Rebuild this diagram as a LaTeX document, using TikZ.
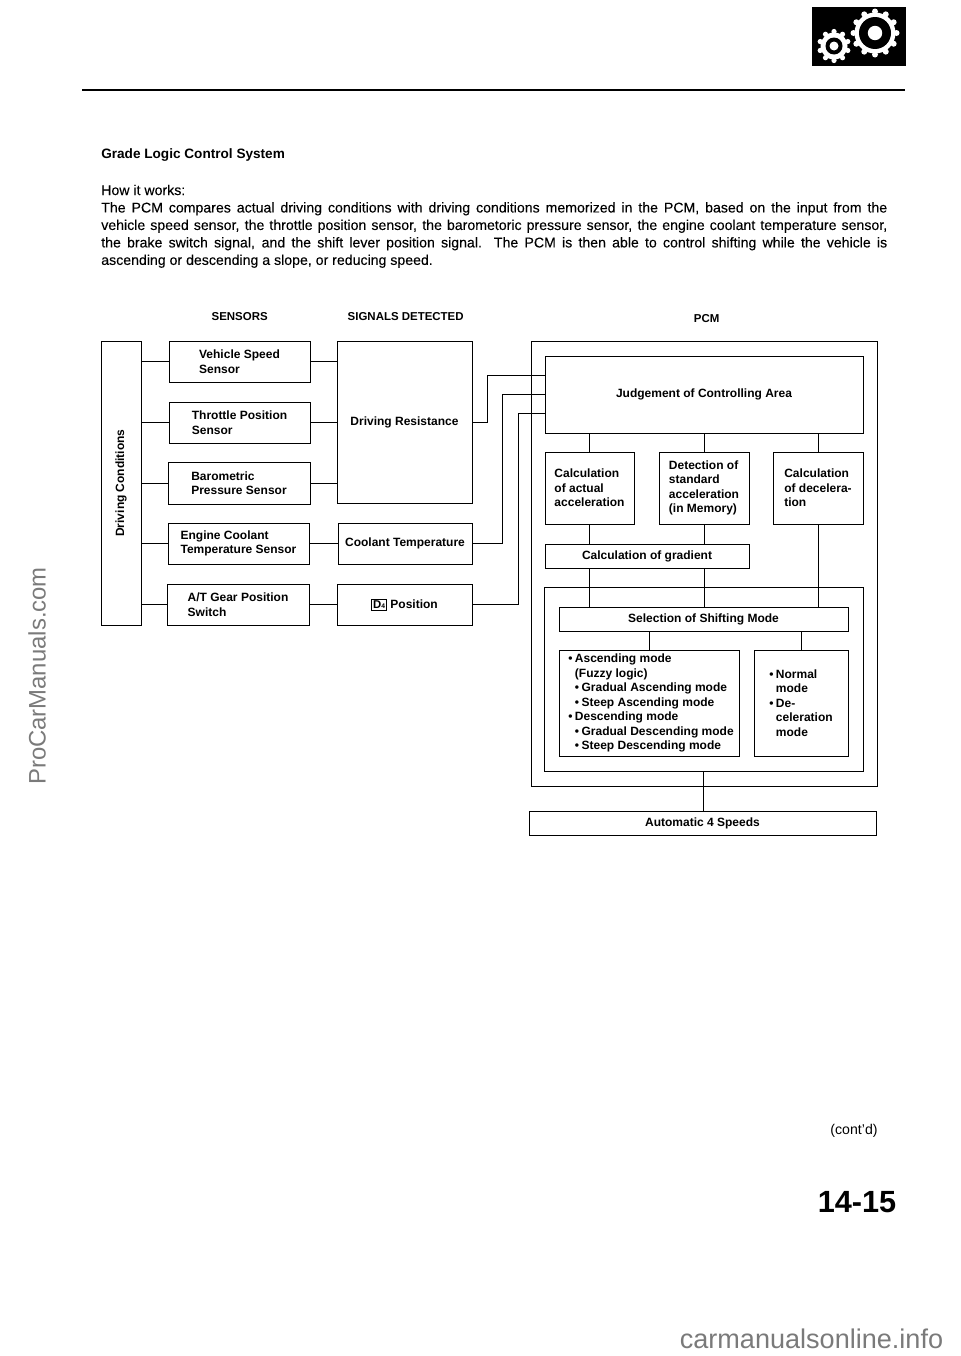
\documentclass[tikz,border=0pt]{standalone}
\usepackage{fontspec}
\setmainfont{Liberation Sans}
\newfontfamily\bodyfont[FakeBold=0.12]{Liberation Sans}
\usetikzlibrary{calc}
\tikzset{
    bx/.style 2 args={draw,line width=0.7pt,inner sep=0pt,outer sep=0pt,
        minimum width=#1*0.75pt,minimum height=#2*0.75pt,
        align=left,font=\bfseries\fontsize{9}{10.9}\selectfont},
    head/.style={font=\bfseries\fontsize{8.6}{10}\selectfont},
    link/.style={line width=0.7pt},
    mark text/.style={text=black!52,inner sep=0pt}
}
\newcommand{\bu}{\makebox[5pt][l]{\textbullet}}

\begin{document}
\begin{tikzpicture}[x=0.75pt,y=-0.75pt]
    \useasboundingbox (0,0) rectangle (960,1356);

    % page head
    \coordinate (RuleL) at (82,90);
    \coordinate (RuleR) at (905,90);
    \draw[line width=1.3pt] (RuleL) -- (RuleR);
    \fill[black] (812,7) rectangle (906,66);
    \coordinate (GearA) at (875,33);
    \coordinate (GearB) at (834,46);
    \foreach \a in {0,30,...,330}{
        \fill[white] ($(GearA)+(\a:21.5)$) circle (3);
    }
    \foreach \a in {18,54,...,342}{
        \fill[white] ($(GearB)+(\a:14.5)$) circle (2.6);
    }
    \fill[white] (GearA) circle (20.5);
    \fill[black] (GearA) circle (16);
    \fill[white] (GearA) circle (7.2);
    \fill[white] (GearB) circle (13.5);
    \fill[black] (GearB) circle (8.5);
    \fill[white] (GearB) circle (4.5);

    \node[anchor=west,inner sep=0pt,font=\bfseries\fontsize{10.2}{12}\selectfont] (title) at (101,155.5) {Grade Logic Control System};
    \node[anchor=north west,inner sep=0pt,align=left,font=\bodyfont\fontsize{10.6}{13.1}\selectfont] (body) at (101,184.5) {%
        How it works:\\
        \makebox[589.5pt][s]{The PCM compares actual driving conditions with driving conditions memorized in the PCM, based on the input from the}\\
        \makebox[589.5pt][s]{vehicle speed sensor, the throttle position sensor, the barometoric pressure sensor, the engine coolant temperature sensor,}\\
        \makebox[589.5pt][s]{the brake switch signal, and the shift lever position signal. The PCM is then able to control shifting while the vehicle is}\\
        ascending or descending a slope, or reducing speed.};

    % column heads
    \node[head] (hsens) at (239.7,317) {SENSORS};
    \node[head] (hsig)  at (405.7,317) {SIGNALS DETECTED};
    \node[head] (hpcm)  at (706.7,319) {PCM};

    % left side
    \node[bx={40}{284}] (cond) at (121,483) {\rotatebox{90}{Driving Conditions}};
    \node[bx={141}{41}] (vss) at (239.5,361.5) {Vehicle Speed\\Sensor};
    \node[bx={141}{41}] (tps) at (239.5,422.5) {Throttle Position\\Sensor};
    \node[bx={142}{42}] (bps) at (239,483) {Barometric\\Pressure Sensor};
    \node[bx={141}{41}] (ect) at (238.5,543.5) {Engine Coolant\\Temperature Sensor};
    \node[bx={142}{41}] (gps) at (238,604.5) {A/T Gear Position\\Switch};
    \node[bx={135}{162}] (drv) at (404.5,422) {Driving Resistance};
    \node[bx={134}{41}] (cool) at (405,543.5) {Coolant Temperature};
    \node[bx={135}{41}] (dfour) at (404.5,604.5) {{\setlength{\fboxsep}{1pt}\setlength{\fboxrule}{0.5pt}\fbox{\fontsize{8.5}{9}\selectfont D\raisebox{0pt}{\fontsize{5}{5}\selectfont 4}}}\hspace{2.5pt}Position};

    % PCM
    \node[bx={346}{445}] (pcm) at (704,563.5) {};
    \node[bx={318}{77}] (judge) at (704,394.5) {\raisebox{2.5pt}{Judgement of Controlling Area}};
    \node[bx={89}{72}] (cact) at (589.5,488) {Calculation\\of actual\\acceleration};
    \node[bx={90}{72}] (dstd) at (704,488) {Detection of\\standard\\acceleration\\(in Memory)};
    \node[bx={90}{72}] (cdec) at (818,488) {Calculation\\of decelera-\\tion};
    \node[bx={204}{24}] (grad) at (647,556) {Calculation of gradient};
    \node[bx={319}{184}] (inner) at (703.5,679) {};
    \node[bx={289}{24}] (sel) at (703.5,619) {Selection of Shifting Mode};
    \node[bx={180}{106}] (asc) at (649,703) {%
        \hspace*{3pt}\bu Ascending mode\\
        \hspace*{8pt}(Fuzzy logic)\\
        \hspace*{8pt}\bu Gradual Ascending mode\\
        \hspace*{8pt}\bu Steep Ascending mode\\
        \hspace*{3pt}\bu Descending mode\\
        \hspace*{8pt}\bu Gradual Descending mode\\
        \hspace*{8pt}\bu Steep Descending mode};
    \node[bx={94}{106}] (nrm) at (801,703) {%
        \bu Normal\\
        \hspace*{5pt}mode\\
        \bu De-\\
        \hspace*{5pt}celeration\\
        \hspace*{5pt}mode};
    \node[bx={347}{24}] (speeds) at (702.5,823) {Automatic 4 Speeds};

    % sensors to both sides
    \foreach \s in {vss,tps,bps,ect,gps}{
        \draw[link] (\s.west) -- (\s.west -| cond.east);
    }
    \foreach \s in {vss,tps,bps}{
        \draw[link] (\s.east) -- (\s.east -| drv.west);
    }
    \draw[link] (ect.east) -- (cool.west);
    \draw[link] (gps.east) -- (dfour.west);

    % signals into the PCM
    \coordinate (KneeA) at (487,375);
    \coordinate (KneeB) at (502,394);
    \coordinate (KneeC) at (518,413);
    \draw[link] (drv.east) -| (KneeA) -- (KneeA -| judge.west);
    \draw[link] (cool.east) -| (KneeB) -- (KneeB -| judge.west);
    \draw[link] (dfour.east) -| (KneeC) -- (KneeC -| judge.west);

    \foreach \b in {cact,dstd,cdec}{
        \draw[link] (judge.south -| \b.north) -- (\b.north);
    }
    \foreach \b in {cact,dstd}{
        \draw[link] (\b.south) -- (\b.south |- grad.north);
        \draw[link] (\b.south |- grad.south) -- (\b.south |- sel.north);
    }
    \draw[link] (cdec.south) -- (cdec.south |- sel.north);
    \foreach \b in {asc,nrm}{
        \draw[link] (\b.north |- sel.south) -- (\b.north);
    }
    \draw[link] (inner.south) -- (inner.south |- speeds.north);

    % page foot
    \node[inner sep=0pt,font=\fontsize{10.6}{12}\selectfont] (cont) at (854,1131) {(cont'd)};
    \node[inner sep=0pt,font=\bfseries\fontsize{23}{26}\selectfont] (pageno) at (857,1202) {14-15};
    \node[mark text,rotate=90,font=\fontsize{17.9}{20}\selectfont] (markA) at (37,676) {ProCarManuals.com};
    \node[mark text,font=\fontsize{20.3}{22}\selectfont] (markB) at (811.5,1339) {carmanualsonline.info};
\end{tikzpicture}
\end{document}
